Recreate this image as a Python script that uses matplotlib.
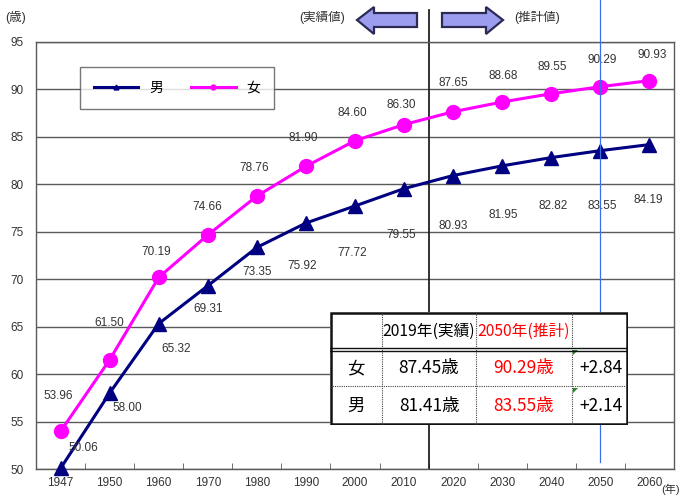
import matplotlib
matplotlib.use("Agg")
import matplotlib.pyplot as plt
from matplotlib.patches import Polygon, Rectangle

plt.rcParams['font.family'] = ['Liberation Sans', 'Noto Sans CJK JP', 'DejaVu Sans']

years = ['1947', '1950', '1960', '1970', '1980', '1990', '2000', '2010',
         '2020', '2030', '2040', '2050', '2060']
female = [53.96, 61.50, 70.19, 74.66, 78.76, 81.90, 84.60, 86.30,
          87.65, 88.68, 89.55, 90.29, 90.93]
male = [50.06, 58.00, 65.32, 69.31, 73.35, 75.92, 77.72, 79.55,
        80.93, 81.95, 82.82, 83.55, 84.19]
female_label_text = ['53.96', '61.50', '70.19', '74.66', '78.76', '81.90', '84.60',
                     '86.30', '87.65', '88.68', '89.55', '90.29', '90.93']
male_label_text = ['50.06', '58.00', '65.32', '69.31', '73.35', '75.92', '77.72',
                   '79.55', '80.93', '81.95', '82.82', '83.55', '84.19']

# label offsets in pixels (dx, dy up)
f_off = [(-2, 35), (0, 37), (-3, 25), (-1, 28), (-3, 28), (-3, 28), (-3, 28),
         (-3, 20), (0, 29), (1, 26), (1, 27), (2, 27), (3, 26)]
m_off = [(23, 20), (18, -15), (17, -25), (0, -23), (0, -25), (-4, -43), (-3, -47),
         (-3, -46), (0, -50), (1, -49), (2, -48), (2, -55), (-1, -55)]

table_cols = ['', '2019年(実績)', '2050年(推計)', '']
table_rows = [['女', '87.45歳', '90.29歳', '+2.84'],
              ['男', '81.41歳', '83.55歳', '+2.14']]

W, H = 681, 499
fig = plt.figure(figsize=(W / 100, H / 100), dpi=100)
fig.patch.set_facecolor('white')

def fx(px):
    return px / W

def fy(py):
    return 1 - py / H

ax = fig.add_axes([fx(36), fy(469), fx(674) - fx(36), fy(42) - fy(469)])
x = list(range(len(years)))
ax.set_xlim(-0.5, len(years) - 0.5)
ax.set_ylim(50, 95)

grid_c = '#5a5a5a'
for v in range(50, 100, 5):
    ax.axhline(v, color=grid_c, lw=1.0, zorder=1)
for s in ax.spines.values():
    s.set_color(grid_c)
    s.set_linewidth(1.0)

ax.set_yticks(range(50, 100, 5))
ax.tick_params(axis='y', length=0, labelsize=8.5, labelcolor='#333333', pad=9)
ax.set_xticks(x)
ax.set_xticklabels(years)
ax.tick_params(axis='x', length=0, labelsize=8.5, labelcolor='#333333', pad=6)
ax.set_xticks([i + 0.5 for i in range(len(years) - 1)], minor=True)
ax.tick_params(axis='x', which='minor', direction='in', length=4, color=grid_c)

# separator lines
ax.axvline(7.5, ymin=0, ymax=(469 - 10) / 427, color='#222222', lw=1.3,
           clip_on=False, zorder=2)
ax.axvline(11, ymin=(469 - 462) / 427, ymax=469 / 427 + 0.01, color='#3a6fe8',
           lw=0.9, clip_on=False, zorder=6)

ax.plot(x, male, color='#000080', lw=2.2, marker='^', markersize=10,
        zorder=4, label='男', clip_on=False)
ax.plot(x, female, color='#ff00ff', lw=2.2, marker='o', markersize=10,
        zorder=4, label='女', clip_on=False)

for i in x:
    ax.annotate(female_label_text[i], (i, female[i]),
                xytext=(f_off[i][0] * 0.72, f_off[i][1] * 0.72),
                textcoords='offset points', ha='center', va='center',
                fontsize=8.5, color='#333333', zorder=5)
    ax.annotate(male_label_text[i], (i, male[i]),
                xytext=(m_off[i][0] * 0.72, m_off[i][1] * 0.72),
                textcoords='offset points', ha='center', va='center',
                fontsize=8.5, color='#333333', zorder=5)

leg = ax.legend(loc='upper left', bbox_to_anchor=((80 - 36) / 638, (469 - 67) / 427),
                ncol=2, frameon=True, fancybox=False, edgecolor='#555555',
                fontsize=10, handlelength=3.2, columnspacing=2.0,
                borderpad=1.0, markerscale=0.35, borderaxespad=0)
leg.get_frame().set_linewidth(1.0)
leg.set_zorder(7)

# top texts
fig.text(fx(5), fy(17), '(歳)', fontsize=9, color='#333333', va='center', ha='left')
fig.text(fx(322), fy(17), '(実績値)', fontsize=9, color='#333333', va='center', ha='center')
fig.text(fx(537), fy(17), '(推計値)', fontsize=9, color='#333333', va='center', ha='center')
fig.text(fx(680), fy(489), '(年)', fontsize=8, color='#333333', va='center', ha='right')

arrow_fc = '#9d9df0'
arrow_ec = '#2a2a55'
left_arrow = [(357, 20), (374, 7), (374, 13), (417, 13), (417, 27), (374, 27), (374, 34)]
right_arrow = [(503, 20), (486, 7), (486, 13), (442, 13), (442, 27), (486, 27), (486, 34)]
for pts in (left_arrow, right_arrow):
    fig.patches.append(Polygon([(fx(a), fy(b)) for a, b in pts], closed=True,
                               facecolor=arrow_fc, edgecolor=arrow_ec, lw=1.6,
                               transform=fig.transFigure, zorder=5))

# table
col_x = [330, 382, 476, 572, 628]
row_y = [312, 348, 386, 425]
tab = fig.add_axes([fx(330), fy(425), fx(628) - fx(330), fy(312) - fy(425)], zorder=10)
tab.set_xlim(330, 628)
tab.set_ylim(425, 312)
tab.axis('off')
tab.add_patch(Rectangle((330, 312), 298, 113, facecolor='white', edgecolor='none'))
for cx in col_x[1:-1]:
    tab.plot([cx, cx], [312, 425], color='#444444', lw=0.8, ls=(0, (1, 1)))
tab.plot([330, 628], [386, 386], color='#444444', lw=0.8, ls=(0, (1, 1)))
tab.plot([330, 628], [347.5, 347.5], color='#111111', lw=1.0)
tab.plot([330, 628], [350.5, 350.5], color='#111111', lw=1.0)
tab.add_patch(Rectangle((331, 313), 296, 111, facecolor='none', edgecolor='#111111', lw=1.8))

tfont = ['Liberation Sans Narrow', 'Noto Sans CJK JP', 'DejaVu Sans']
for j, t in enumerate(table_cols):
    if t:
        tab.text((col_x[j] + col_x[j + 1]) / 2, 331, t, ha='center', va='center',
                 fontsize=11.3, color='red' if j == 2 else 'black', family=tfont)
for r, row in enumerate(table_rows):
    yc = (row_y[r + 1] + row_y[r + 2]) / 2 + (1 if r == 0 else 0)
    for j, t in enumerate(row):
        tab.text((col_x[j] + col_x[j + 1]) / 2 + (1 if j == 3 else 0), yc, t,
                 ha='center', va='center', fontsize=12.5,
                 color='red' if j == 2 else 'black', family=tfont)
    tab.add_patch(Polygon([(573, row_y[r + 1] + 2), (578, row_y[r + 1] + 2), (573, row_y[r + 1] + 7)],
                          closed=True, facecolor='#1a8a1a', edgecolor='none'))

fig.savefig('out.png', dpi=100)
